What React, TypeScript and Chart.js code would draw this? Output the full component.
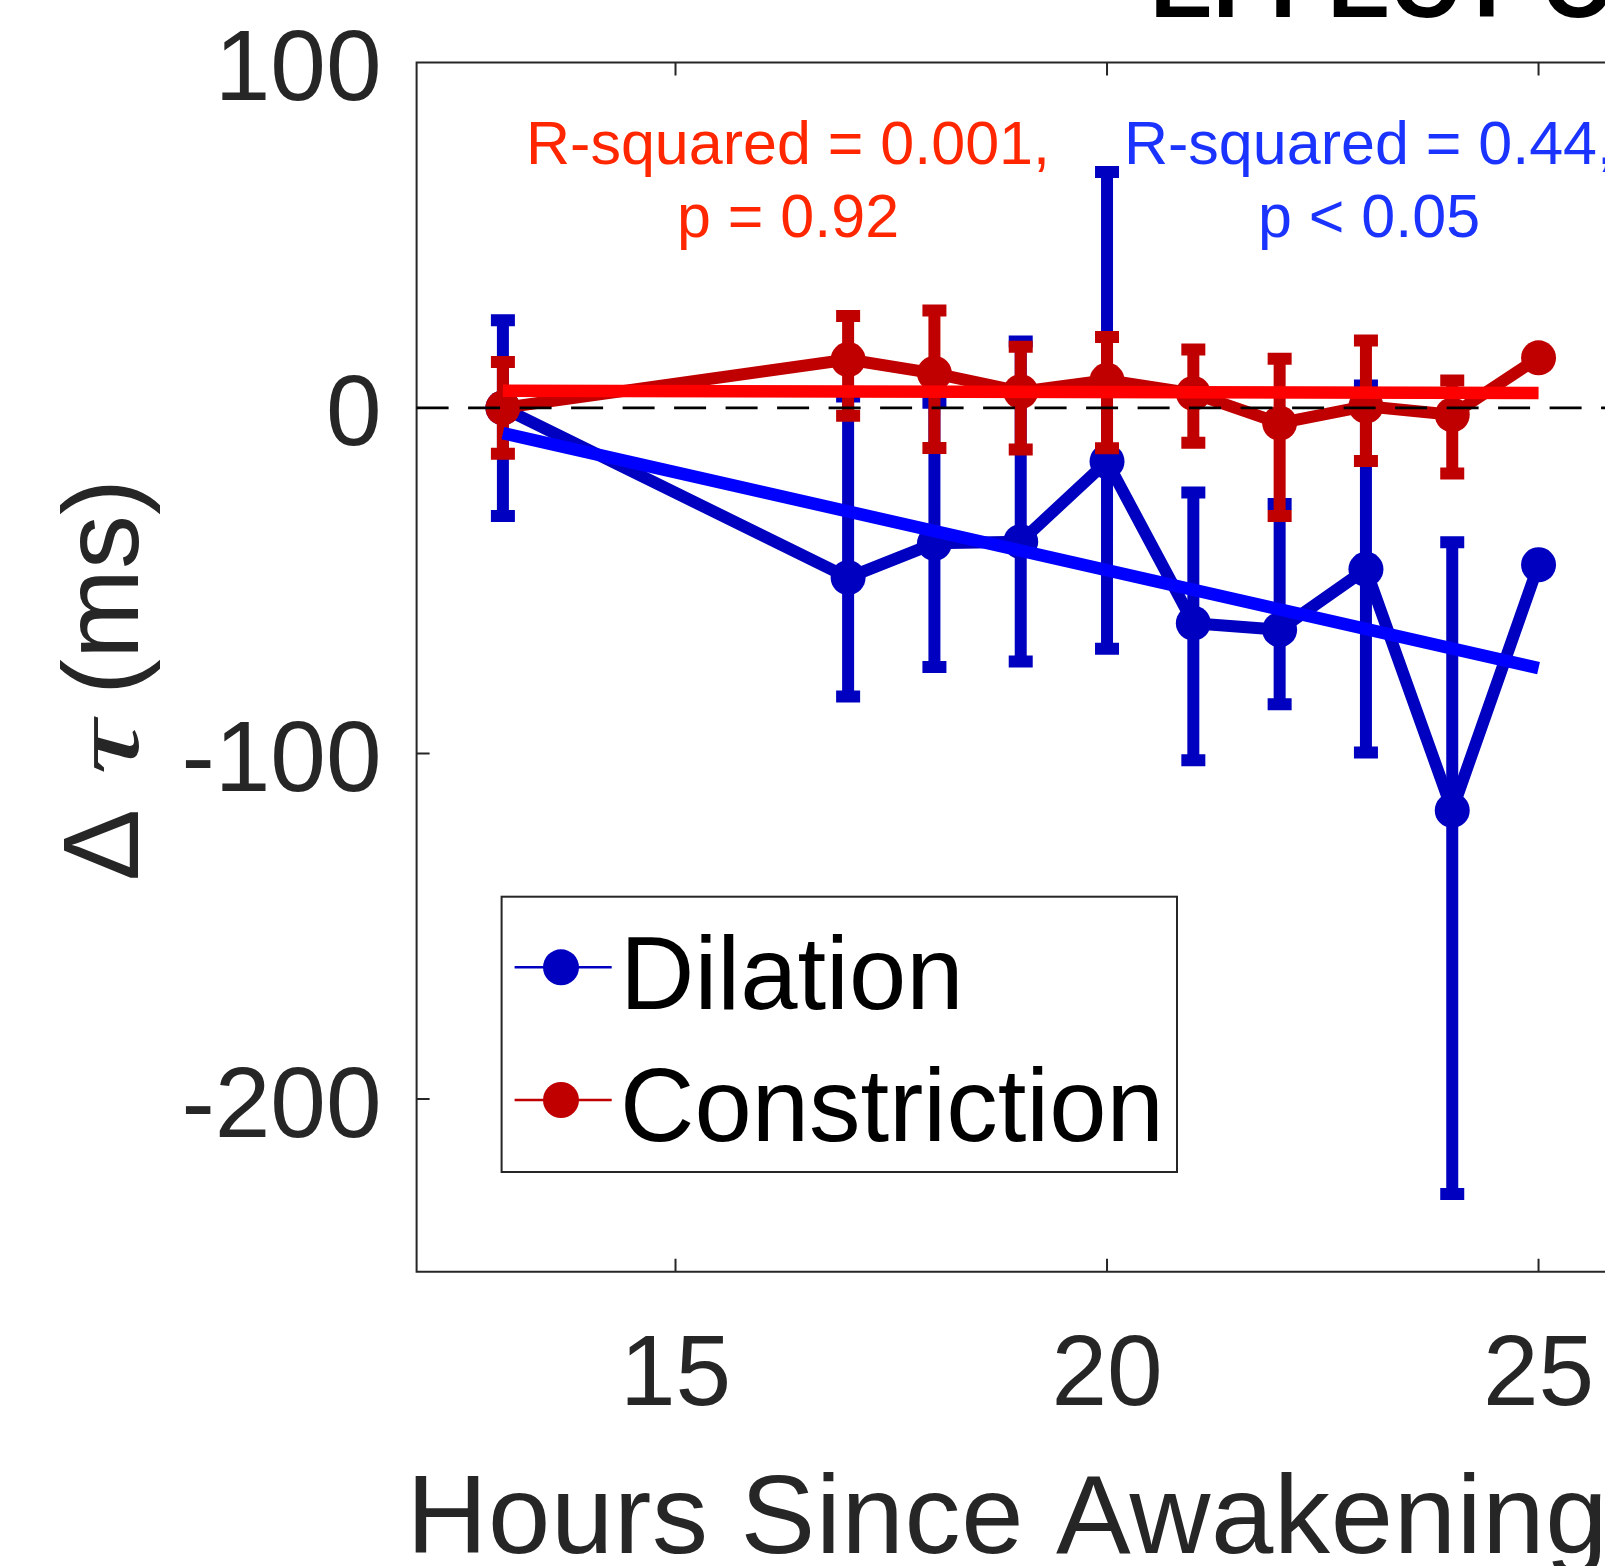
import React, { useEffect, useRef } from 'react';
import { Chart, registerables } from 'chart.js';

Chart.register(...registerables);

// ---------- data ----------
const HOURS = [13, 17, 18, 19, 20, 21, 22, 23, 24, 25];

const DILATION_MEAN = [0, -49.1, -39.2, -38.7, -15.5, -62.3, -64.2, -46.7, -116.5, -45.4];
const DILATION_UPPER = [25.4, 3.3, 1.5, 19.2, 68.3, -24.5, -27.8, 6.5, -38.9, null];
const DILATION_LOWER = [-31.3, -83.5, -75.0, -73.4, -69.7, -102.0, -85.8, -99.7, -227.5, null];

const CONSTRICTION_MEAN = [0, 14.0, 10.0, 4.7, 8.0, 4.2, -4.4, 0.5, -2.0, 14.5];
const CONSTRICTION_UPPER = [13.3, 26.6, 28.2, 17.7, 20.5, 16.9, 14.2, 19.5, 7.9, null];
const CONSTRICTION_LOWER = [-13.3, -2.3, -11.6, -12.0, -11.7, -10.1, -31.3, -15.4, -19.0, null];

const FIT_HOURS = [13, 25];
const DILATION_FIT = [-7.3, -75.3];
const CONSTRICTION_FIT = [5.0, 4.3];

const X_TICKS = [15, 20, 25];
const Y_TICKS = [-200, -100, 0, 100];

const SERIES_LABELS = ['Dilation', 'Constriction'];
const FIT_LABELS = ['Dilation fit', 'Constriction fit'];
const ANNOT_CONSTRICTION = ['R-squared = 0.001,', 'p = 0.92'];
const ANNOT_DILATION = ['R-squared = 0.44,', 'p < 0.05'];
const X_TITLE = 'Hours Since Awakening';
const TITLE = 'EFFECT OF';

// ---------- style ----------
const W = 1605;
const H = 1566;
const FONT = "'Liberation Sans', Arial, Helvetica, sans-serif";
const AXIS_COLOR = '#262626';
const DIL_COLOR = '#0000C0';
const CON_COLOR = '#C00000';
const DIL_FIT_COLOR = '#0000FF';
const CON_FIT_COLOR = '#FF0000';
const DIL_TEXT = '#1A33FF';
const CON_TEXT = '#FF2600';

const AREA_LEFT = 416.6;
const AREA_TOP = 62.4;
const AREA_BOTTOM = 1271.7;
const X_MIN = 12;
const X_MAX = 25.77;
const Y_MIN = -250;
const Y_MAX = 100;

const LINE_W = 12;
const FIT_W = 12.5;
const CAP_HALF = 12;

const pts = (xs: number[], ys: number[]) => xs.map((x, i) => ({ x, y: ys[i] }));

const errorBarPlugin = {
  id: 'errorBars',
  beforeDatasetDraw(chart: any, args: any) {
    const ds = chart.data.datasets[args.index];
    if (!ds.errLower) return;
    const ctx = chart.ctx;
    const xs = chart.scales.x;
    const ys = chart.scales.y;
    ctx.save();
    ctx.strokeStyle = ds.borderColor;
    ctx.lineWidth = LINE_W;
    ctx.lineCap = 'butt';
    ctx.beginPath();
    ds.data.forEach((p: any, i: number) => {
      const lo = ds.errLower[i];
      const hi = ds.errUpper[i];
      if (lo == null || hi == null) return;
      const x = xs.getPixelForValue(p.x);
      const yl = ys.getPixelForValue(lo);
      const yh = ys.getPixelForValue(hi);
      ctx.moveTo(x, yl);
      ctx.lineTo(x, yh);
      ctx.moveTo(x - CAP_HALF, yl);
      ctx.lineTo(x + CAP_HALF, yl);
      ctx.moveTo(x - CAP_HALF, yh);
      ctx.lineTo(x + CAP_HALF, yh);
    });
    ctx.stroke();
    ctx.restore();
  },
};

const axesPlugin = {
  id: 'matlabAxes',
  beforeDatasetsDraw(chart: any) {
    const { ctx, chartArea } = chart;
    const xs = chart.scales.x;
    const ys = chart.scales.y;
    ctx.save();
    ctx.strokeStyle = AXIS_COLOR;
    ctx.lineWidth = 2;
    ctx.beginPath();
    ctx.moveTo(chartArea.right + 5, chartArea.top);
    ctx.lineTo(chartArea.left, chartArea.top);
    ctx.lineTo(chartArea.left, chartArea.bottom);
    ctx.lineTo(chartArea.right + 5, chartArea.bottom);
    const tl = 13;
    X_TICKS.forEach((v) => {
      const x = xs.getPixelForValue(v);
      ctx.moveTo(x, chartArea.bottom);
      ctx.lineTo(x, chartArea.bottom - tl);
      ctx.moveTo(x, chartArea.top);
      ctx.lineTo(x, chartArea.top + tl);
    });
    Y_TICKS.forEach((v) => {
      const y = ys.getPixelForValue(v);
      ctx.moveTo(chartArea.left, y);
      ctx.lineTo(chartArea.left + tl, y);
    });
    ctx.stroke();
    ctx.restore();
  },
  afterDatasetsDraw(chart: any) {
    const { ctx, chartArea } = chart;
    const ys = chart.scales.y;
    // zero reference line
    ctx.save();
    ctx.strokeStyle = '#000000';
    ctx.lineWidth = 2.7;
    ctx.setLineDash([32, 19.5]);
    const y0 = ys.getPixelForValue(0);
    ctx.beginPath();
    ctx.moveTo(chartArea.left, y0);
    ctx.lineTo(chartArea.right, y0);
    ctx.stroke();
    ctx.restore();

    // regression annotations
    ctx.save();
    ctx.font = `61px ${FONT}`;
    ctx.textAlign = 'center';
    ctx.textBaseline = 'alphabetic';
    ctx.fillStyle = CON_TEXT;
    ctx.fillText(ANNOT_CONSTRICTION[0], 788, 164);
    ctx.fillText(ANNOT_CONSTRICTION[1], 788, 237);
    ctx.fillStyle = DIL_TEXT;
    ctx.fillText(ANNOT_DILATION[0], 1369, 164);
    ctx.fillText(ANNOT_DILATION[1], 1369, 237);
    ctx.restore();

    // legend
    const bx = 501.6, by = 896.7, bw = 675.4, bh = 275.3;
    ctx.save();
    ctx.fillStyle = '#ffffff';
    ctx.fillRect(bx, by, bw, bh);
    ctx.strokeStyle = AXIS_COLOR;
    ctx.lineWidth = 2;
    ctx.strokeRect(bx, by, bw, bh);
    const rows = [967.3, 1100];
    const baselines = [1009, 1141];
    SERIES_LABELS.forEach((label, i) => {
      const ds = chart.data.datasets.find((d: any) => d.label === label);
      const color = ds.borderColor;
      ctx.strokeStyle = color;
      ctx.lineWidth = 2.5;
      ctx.beginPath();
      ctx.moveTo(514.6, rows[i]);
      ctx.lineTo(611.7, rows[i]);
      ctx.stroke();
      ctx.fillStyle = color;
      ctx.beginPath();
      ctx.arc(561, rows[i], 18, 0, Math.PI * 2);
      ctx.fill();
      ctx.fillStyle = '#000000';
      ctx.font = `103px ${FONT}`;
      ctx.textAlign = 'left';
      ctx.textBaseline = 'alphabetic';
      ctx.fillText(label, 620, baselines[i]);
    });
    ctx.restore();
  },
  afterDraw(chart: any) {
    const ctx = chart.ctx;
    ctx.save();
    // x-axis title
    ctx.fillStyle = AXIS_COLOR;
    ctx.font = `112px ${FONT}`;
    ctx.textAlign = 'left';
    ctx.textBaseline = 'alphabetic';
    (ctx as any).letterSpacing = '0.7px';
    ctx.fillText(X_TITLE, 406.5, 1553);
    (ctx as any).letterSpacing = '0px';
    // y-axis title (rotated)
    ctx.translate(138, 881);
    ctx.rotate(-Math.PI / 2);
    ctx.font = `108px ${FONT}`;
    ctx.fillText('\u0394', 0, 0);
    ctx.save();
    ctx.translate(106, 0);
    ctx.scale(1.4, 0.88);
    ctx.font = `italic 108px 'Liberation Serif', 'DejaVu Serif', serif`;
    ctx.fillText('\u03C4', 0, 0);
    ctx.restore();
    ctx.font = `108px ${FONT}`;
    ctx.fillText('(ms)', 186, 0);
    ctx.restore();
    // title (mostly above the visible area)
    ctx.save();
    ctx.fillStyle = '#000000';
    ctx.font = `bold 94px ${FONT}`;
    ctx.textAlign = 'left';
    ctx.textBaseline = 'alphabetic';
    ctx.fillText(TITLE, 1150, 17);
    ctx.restore();
  },
};

export default function App() {
  const ref = useRef<HTMLCanvasElement>(null);

  useEffect(() => {
    const canvas = ref.current;
    if (!canvas) return;
    const zeroPad = (s: any) => {
      s.paddingLeft = 0;
      s.paddingRight = 0;
      s.paddingTop = 0;
      s.paddingBottom = 0;
    };
    const chart = new Chart(canvas, {
      type: 'line',
      data: {
        datasets: [
          {
            label: SERIES_LABELS[0],
            data: pts(HOURS, DILATION_MEAN),
            errLower: DILATION_LOWER,
            errUpper: DILATION_UPPER,
            borderColor: DIL_COLOR,
            backgroundColor: DIL_COLOR,
            borderWidth: LINE_W,
            borderJoinStyle: 'round',
            pointRadius: 17.5,
            pointBorderWidth: 0,
            pointBackgroundColor: DIL_COLOR,
            tension: 0,
            order: 3,
            clip: false,
          } as any,
          {
            label: SERIES_LABELS[1],
            data: pts(HOURS, CONSTRICTION_MEAN),
            errLower: CONSTRICTION_LOWER,
            errUpper: CONSTRICTION_UPPER,
            borderColor: CON_COLOR,
            backgroundColor: CON_COLOR,
            borderWidth: LINE_W,
            borderJoinStyle: 'round',
            pointRadius: 17.5,
            pointBorderWidth: 0,
            pointBackgroundColor: CON_COLOR,
            tension: 0,
            order: 2,
            clip: false,
          } as any,
          {
            label: FIT_LABELS[0],
            data: pts(FIT_HOURS, DILATION_FIT),
            borderColor: DIL_FIT_COLOR,
            borderWidth: FIT_W,
            borderCapStyle: 'butt',
            pointRadius: 0,
            tension: 0,
            order: 1,
            clip: false,
          },
          {
            label: FIT_LABELS[1],
            data: pts(FIT_HOURS, CONSTRICTION_FIT),
            borderColor: CON_FIT_COLOR,
            borderWidth: FIT_W,
            borderCapStyle: 'butt',
            pointRadius: 0,
            tension: 0,
            order: 0,
            clip: false,
          },
        ],
      },
      options: {
        responsive: false,
        animation: false,
        events: [],
        layout: { autoPadding: false, padding: { left: 0, top: AREA_TOP, right: 0, bottom: 0 } },
        plugins: {
          legend: { display: false },
          tooltip: { enabled: false },
          title: { display: false },
        },
        scales: {
          x: {
            type: 'linear',
            min: X_MIN,
            max: X_MAX,
            grid: { display: false, drawTicks: false },
            border: { display: false },
            ticks: {
              font: { family: FONT, size: 100 },
              color: AXIS_COLOR,
              padding: 46,
              maxRotation: 0,
              autoSkip: false,
            },
            afterBuildTicks: (s: any) => {
              s.ticks = X_TICKS.map((v) => ({ value: v }));
            },
            afterFit: (s: any) => {
              s.height = H - AREA_BOTTOM;
              zeroPad(s);
            },
          },
          y: {
            type: 'linear',
            min: Y_MIN,
            max: Y_MAX,
            grid: { display: false, drawTicks: false },
            border: { display: false },
            ticks: {
              font: { family: FONT, size: 100 },
              color: AXIS_COLOR,
              padding: 35,
              labelOffset: 10,
              autoSkip: false,
            },
            afterBuildTicks: (s: any) => {
              s.ticks = Y_TICKS.map((v) => ({ value: v }));
            },
            afterFit: (s: any) => {
              s.width = AREA_LEFT;
              zeroPad(s);
            },
          },
        },
      },
      plugins: [errorBarPlugin, axesPlugin],
    });
    return () => chart.destroy();
  }, []);

  return (
    <div style={{ position: 'absolute', left: 0, top: 0, width: W, height: H, background: '#ffffff' }}>
      <canvas ref={ref} width={W} height={H} style={{ display: 'block', width: W, height: H }} />
    </div>
  );
}
